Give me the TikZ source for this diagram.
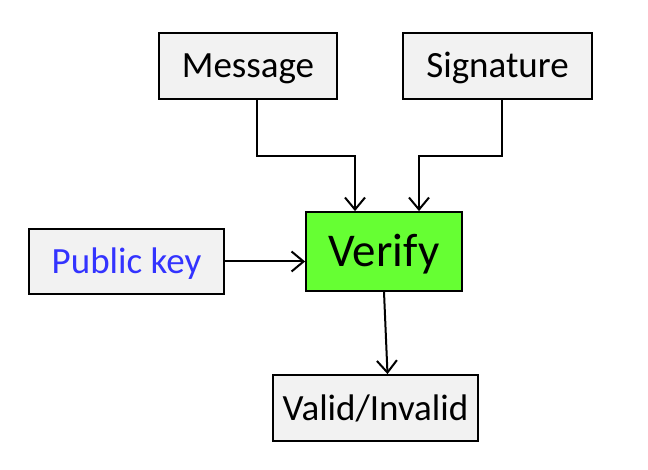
\documentclass[tikz,border=0pt]{standalone}
\usepackage{fontspec}
\setmainfont{Carlito}
\usepackage{tikz}
\usetikzlibrary{arrows.meta,positioning,calc}
\definecolor{boxcol}{RGB}{242,242,242}
\definecolor{verifycol}{RGB}{102,255,51}
\definecolor{keycol}{RGB}{51,51,255}
\tikzset{
  blk/.style={rectangle,draw,fill=boxcol,line width=1.8pt,inner sep=0pt,
    text height=24pt,text depth=0pt,font=\fontsize{37}{44}\selectfont},
  vf/.style={blk,fill=verifycol,text height=30pt,font=\fontsize{47}{56}\selectfont},
  ar/.style={-{Straight Barb[length=12pt,width=20pt,line width=2pt]},line width=2pt}
}
\begin{document}
\begin{tikzpicture}[x=1pt,y=-1pt]
  \useasboundingbox (0,0) rectangle (648,470);
  \node[blk,minimum width=178pt,minimum height=66pt] (msg) at (248,66) {Message};
  \node[blk,minimum width=189pt,minimum height=66pt] (sig) at (497.5,66) {Signature};
  \node[vf,minimum width=156pt,minimum height=79pt] (verify) at (384,251.5) {Verify};
  \node[blk,minimum width=195pt,minimum height=65pt,text=keycol] (pk) at (126.5,261.5) {Public key};
  \node[blk,minimum width=205pt,minimum height=66pt] (res) at (375.5,408) {Valid/Invalid};
  \draw[ar] ([xshift=9pt]msg.south) -- ++(0,56) -| ([xshift=-29pt]verify.north);
  \draw[ar] ([xshift=4.5pt]sig.south) -- ++(0,56) -| ([xshift=35pt]verify.north);
  \draw[ar] (pk.east) -- (pk.east -| verify.west);
  \draw[ar] (verify.south) -- ([xshift=12pt]res.north);
\end{tikzpicture}
\end{document}
